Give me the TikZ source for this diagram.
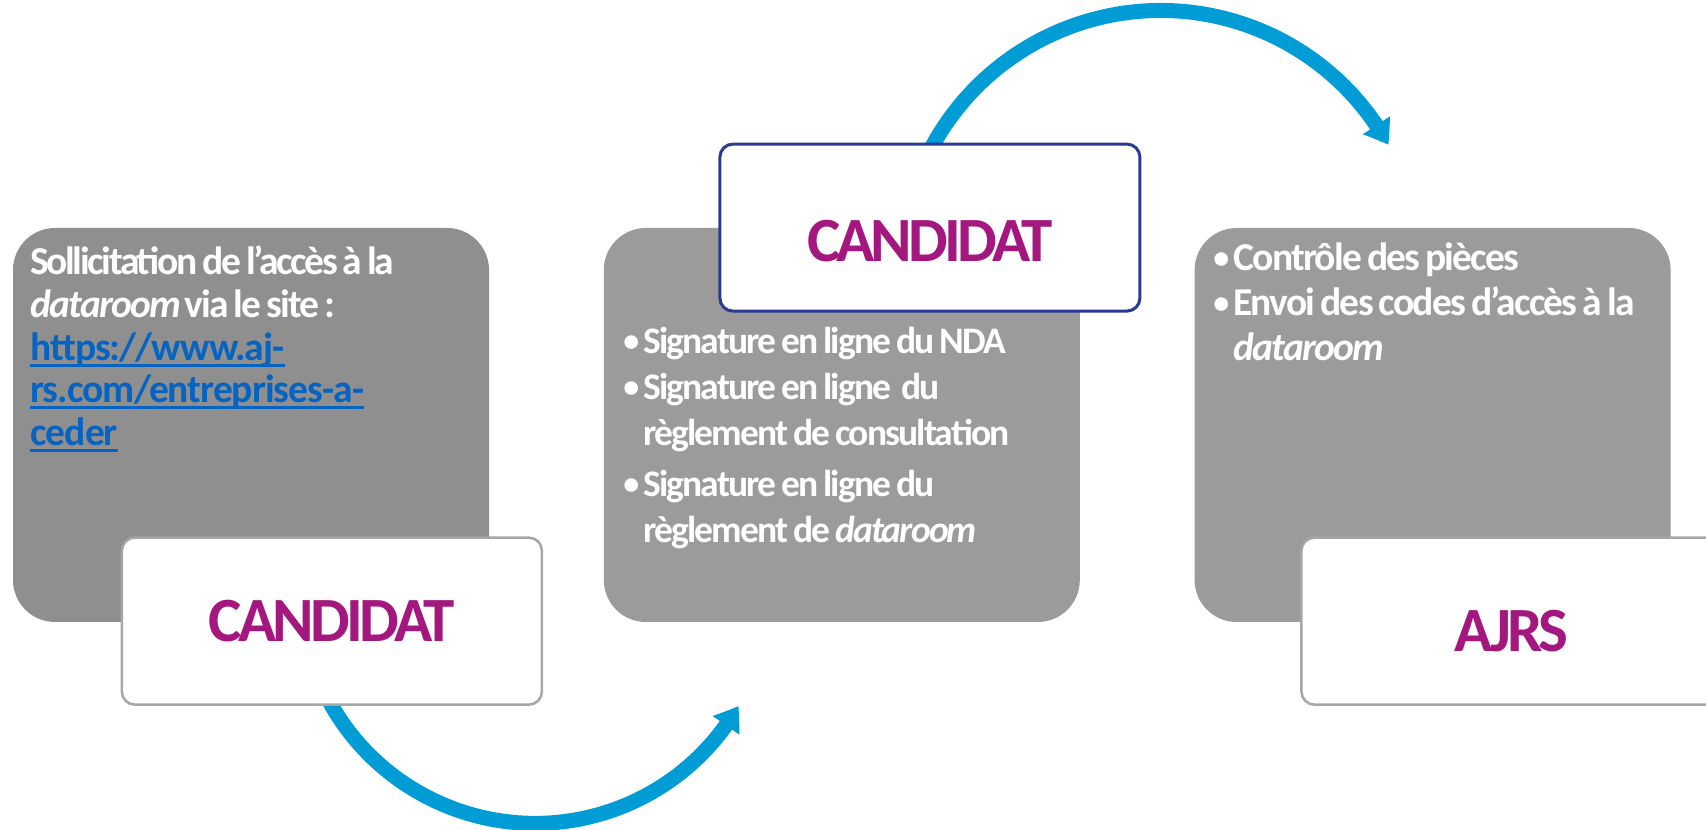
\documentclass[tikz,border=0pt]{standalone}
\usepackage{fontspec}
\setmainfont{Carlito}
\usetikzlibrary{arrows.meta,bending,positioning}

\definecolor{grisfonce}{HTML}{8F8F8F}
\definecolor{grisclair}{HTML}{9B9B9B}
\definecolor{bordgris}{HTML}{A6A6A6}
\definecolor{bordbleu}{HTML}{2B3990}
\definecolor{titremagenta}{HTML}{A3177E}
\definecolor{lienbleu}{HTML}{0563C1}
\definecolor{flechebleu}{HTML}{009CD6}

\newsavebox{\boitelien}
\newcommand{\souligne}[1]{\leavevmode\sbox{\boitelien}{#1}\rlap{\rule[-3.3pt]{\wd\boitelien}{1.5pt}}\usebox{\boitelien}}
\newcommand{\puce}{\leavevmode\makebox[10pt][l]{\raisebox{1pt}{\fontsize{16}{16}\selectfont•}}}
\newcommand{\suite}{\leavevmode\hspace*{10pt}}

\pgfdeclarelayer{background}
\pgfsetlayers{background,main}

\begin{document}
\begin{tikzpicture}[x=0.5pt,y=0.5pt,
		fond/.style={rectangle,rounded corners=21pt,minimum width=238pt,minimum height=197pt,inner sep=0pt},
		etiquette/.style={rectangle,draw=bordgris,line width=1.25pt,fill=white,rounded corners=6.5pt,minimum width=210pt,minimum height=83.5pt,inner sep=0pt,text=titremagenta,font={\fontsize{31.5}{34}\selectfont\bfseries\addfontfeature{LetterSpace=-6}}},
		texte/.style={anchor=base west,inner sep=0pt,text=white,align=flush left,text width=300pt},
		fleche/.style={draw=flechebleu,line width=7.5pt,-{Triangle[width=15.5pt,length=11.5pt,bend]}}]
	\useasboundingbox (0,0) rectangle (1706,829);
	\clip (0,0) rectangle (1706,829);

	\node[fond,fill=grisfonce] (etape1) at (251,404) {};
	\node[fond,fill=grisclair,right=57pt of etape1] (etape2) {};
	\node[fond,fill=grisclair,right=57pt of etape2] (etape3) {};

	\node[etiquette,anchor=north west] (qui1) at ([shift={(108,86)}]etape1.south west) {CANDIDAT};
	\node[etiquette,draw=bordbleu,line width=1.5pt,text height=33.5pt,text depth=0pt,anchor=south west] (qui2) at ([shift={(115,-85)}]etape2.north west) {CANDIDAT};
	\node[etiquette,text height=30pt,text depth=0pt,anchor=north west] (qui3) at ([shift={(106,86)}]etape3.south west) {AJRS};

	\node[texte,font={\fontsize{19.75}{21.3}\selectfont\bfseries\addfontfeature{LetterSpace=-4.5}\spaceskip=2.5pt}] (desc1) at (30,554)
		{{\addfontfeature{LetterSpace=-6}Sollicitation de l’accès à la}\\ \textit{dataroom} via le site :\\
		{\color{lienbleu}\addfontfeature{LetterSpace=-2.5}\souligne{https://www.aj-}\\ \souligne{rs.com/entreprises-a-}\\ \souligne{ceder}}};
	\node[texte,font={\fontsize{18.75}{23}\selectfont\bfseries\addfontfeature{LetterSpace=-5}\spaceskip=2.5pt}] (desc2) at (623,475)
		{\puce Signature en ligne du NDA\\
		\puce Signature en ligne~ du\\ \suite règlement de consultation\\[2.5pt]
		\puce Signature en ligne du\\ \suite règlement de \textit{dataroom}};
	\node[texte,font={\fontsize{19.75}{22.5}\selectfont\bfseries\addfontfeature{LetterSpace=-4.5}\spaceskip=2.5pt}] (desc3) at (1213,558)
		{\puce Contrôle des pièces\\ \puce Envoi des codes d’accès à la\\ \suite\textit{dataroom}};

	\coordinate (depart1) at ([shift={(194,37)}]qui1.south west);
	\coordinate (depart2) at ([shift={(198,-39)}]qui2.north west);
	\begin{pgfonlayer}{background}
		\draw[fleche] (depart1) arc[start angle=200,end angle=330,radius=234.7];
		\draw[fleche] (depart2) arc[start angle=160,end angle=28.9,radius=260];
	\end{pgfonlayer}
\end{tikzpicture}
\end{document}
